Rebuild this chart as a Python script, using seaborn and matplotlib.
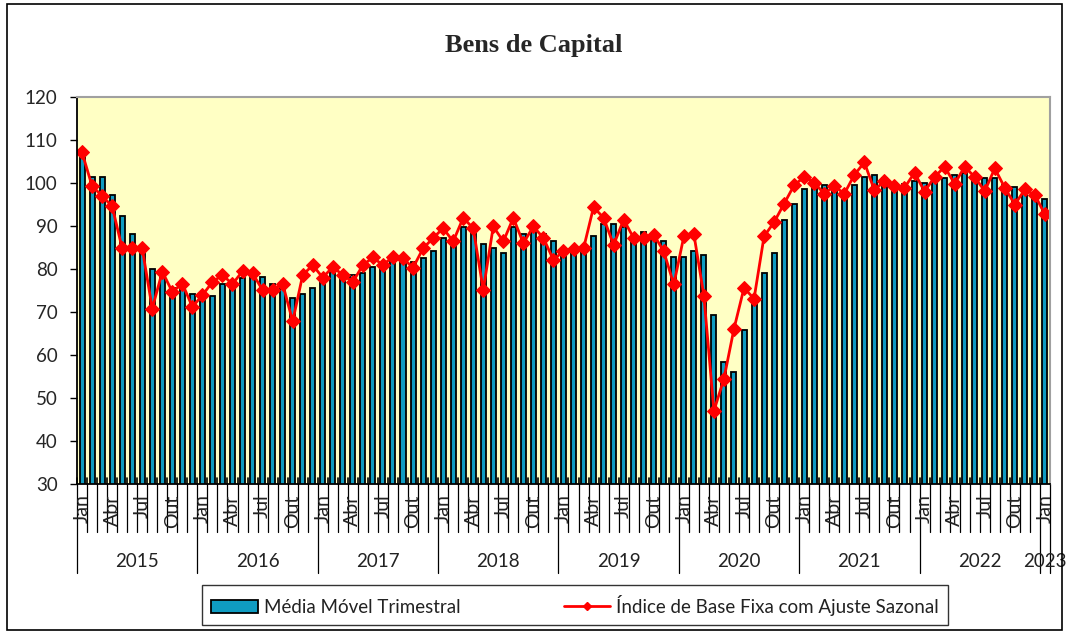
import numpy as np
import pandas as pd
import matplotlib
matplotlib.use("Agg")
import matplotlib.pyplot as plt
import seaborn as sns
from matplotlib.patches import Rectangle, Patch
from matplotlib.lines import Line2D

years = ["2015", "2016", "2017", "2018", "2019", "2020", "2021", "2022", "2023"]
month_names = ["Jan", "Fev", "Mar", "Abr", "Mai", "Jun", "Jul", "Ago", "Set", "Out", "Nov", "Dez"]
shown_months = ["Jan", "Abr", "Jul", "Out"]

media_movel = [
    106.7, 101.4, 101.4, 97.2, 92.4, 88.1, 84.8, 80.0, 79.4, 75.5, 76.3, 74.3,
    73.8, 73.8, 76.6, 77.0, 78.0, 79.0, 78.1, 76.6, 75.6, 73.3, 74.3, 75.6,
    77.0, 80.2, 77.8, 78.6, 79.0, 80.5, 80.2, 82.1, 81.7, 81.7, 82.5, 84.2,
    87.2, 85.6, 89.7, 89.5, 85.8, 84.8, 83.8, 89.7, 88.1, 88.9, 88.1, 86.6,
    83.7, 83.7, 84.5, 87.6, 90.5, 90.5, 89.7, 87.2, 88.6, 88.0, 86.6, 82.9,
    82.9, 84.2, 83.3, 69.4, 58.4, 56.1, 65.7, 72.0, 79.0, 83.7, 91.5, 95.2,
    98.5, 99.3, 99.5, 98.9, 97.0, 99.5, 101.4, 101.9, 101.1, 100.1, 99.7, 100.5,
    100.1, 100.6, 101.1, 101.9, 102.4, 100.6, 101.1, 101.1, 99.5, 99.1, 98.1, 96.6,
    96.2,
]

indice_ajuste = [
    107.1, 99.3, 97.0, 94.6, 84.8, 84.8, 84.8, 70.8, 79.4, 74.7, 76.6, 71.2,
    73.9, 77.0, 78.6, 76.5, 79.5, 79.0, 75.1, 75.1, 76.6, 67.8, 78.6, 80.9,
    78.0, 80.5, 78.6, 77.0, 80.9, 82.7, 80.9, 82.9, 82.5, 80.3, 84.8, 87.2,
    89.5, 86.4, 91.9, 89.5, 75.1, 89.9, 86.4, 91.9, 86.0, 89.9, 87.2, 82.1,
    84.2, 84.7, 84.8, 94.4, 91.9, 85.6, 91.5, 87.2, 87.2, 88.0, 84.1, 76.4,
    87.6, 88.1, 73.8, 47.0, 54.5, 66.1, 75.6, 73.1, 87.6, 90.9, 95.2, 99.5,
    101.4, 100.1, 97.5, 99.3, 97.5, 101.9, 104.8, 98.3, 100.5, 99.3, 98.9, 102.4,
    98.0, 101.4, 103.8, 99.8, 103.8, 101.4, 98.1, 103.4, 98.9, 95.0, 98.5, 97.2,
    92.7,
]

n = len(media_movel)
pos = np.arange(n)
month_of = [month_names[i % 12] for i in range(n)]
year_of = [years[i // 12] for i in range(n)]
df = pd.DataFrame({"pos": pos, "media": media_movel, "indice": indice_ajuste,
                   "mes": month_of, "ano": year_of})

sns.set_theme(style="white")
plt.rcParams["font.family"] = ["Lato", "DejaVu Sans"]

fig = plt.figure(figsize=(10.67, 6.35), dpi=100)
ax = fig.add_axes([0.0722, 0.2378, 0.9118, 0.6094])
ax.set_facecolor("#FFFFC4")

bar_color = "#0F9CC2"
sns.barplot(data=df, x="pos", y="media", native_scale=True, width=0.5,
            color=bar_color, saturation=1, edgecolor="black", linewidth=1.3, ax=ax)
sns.lineplot(data=df, x="pos", y="indice", color="#FF0000", linewidth=2,
             marker="D", markersize=7, markeredgecolor="#FF0000", ax=ax)

ax.set_xlim(-0.5, n - 0.5)
ax.set_ylim(30, 120)
ax.set_yticks(np.arange(30, 121, 10))
ax.tick_params(axis="y", labelsize=13.5, length=5, width=1, color="black",
               direction="out", left=True, pad=9)
ax.set_xticks([])
ax.set_xlabel("")
ax.set_ylabel("")
for s in ["top", "right"]:
    ax.spines[s].set_color("#a0a0a0")
    ax.spines[s].set_linewidth(1.5)
ax.spines["left"].set_color("black")
ax.spines["left"].set_linewidth(1.3)
ax.spines["bottom"].set_color("black")
ax.spines["bottom"].set_linewidth(1.3)

tr = ax.get_xaxis_transform()
for i in range(n + 1):
    b = i - 0.5
    is_year = (i % 12 == 0) or i == n
    ax.plot([b, b], [0, -0.23 if is_year else -0.125], transform=tr, color="black",
            linewidth=0.9, clip_on=False)
    ax.plot([b, b], [0, 0.015], transform=tr, color="black", linewidth=1.2, clip_on=False)
for i in range(n):
    if month_of[i] in shown_months:
        ax.text(pos[i], -0.027, month_of[i], transform=tr, rotation=90, ha="center",
                va="top", fontsize=14, color="#222222")
for k, y in enumerate(years):
    idx = [i for i in range(n) if year_of[i] == y]
    cx = (idx[0] + idx[-1]) / 2
    ax.text(cx, -0.2, y, transform=tr, ha="center", va="center", fontsize=13.5, color="#222222")

fig.text(0.5, 0.928, "Bens de Capital", ha="center", va="center",
         fontsize=19, fontweight="bold", family="Liberation Serif")

handles = [
    Patch(facecolor=bar_color, edgecolor="black", linewidth=1.3),
    Line2D([0], [0], color="#FF0000", linewidth=2, marker="D", markersize=4),
]
labels = ["Média Móvel Trimestral", "Índice de Base Fixa com Ajuste Sazonal"]
leg = fig.legend(handles, labels, loc="center", bbox_to_anchor=(0.539, 0.047), ncol=2,
                 frameon=True, fancybox=False, fontsize=13.5, columnspacing=5.5,
                 handlelength=2.5, handletextpad=0.3, borderpad=0.5)
leg.get_frame().set_edgecolor("black")
leg.get_frame().set_linewidth(1.0)
leg.get_frame().set_boxstyle("square", pad=0.0)
for t in leg.get_texts():
    t.set_color("#222222")

fig.patches.append(Rectangle((0.007, 0.008), 0.988, 0.985, transform=fig.transFigure,
                             fill=False, edgecolor="black", linewidth=1.2))

fig.savefig("out.png", dpi=100, facecolor="white")
